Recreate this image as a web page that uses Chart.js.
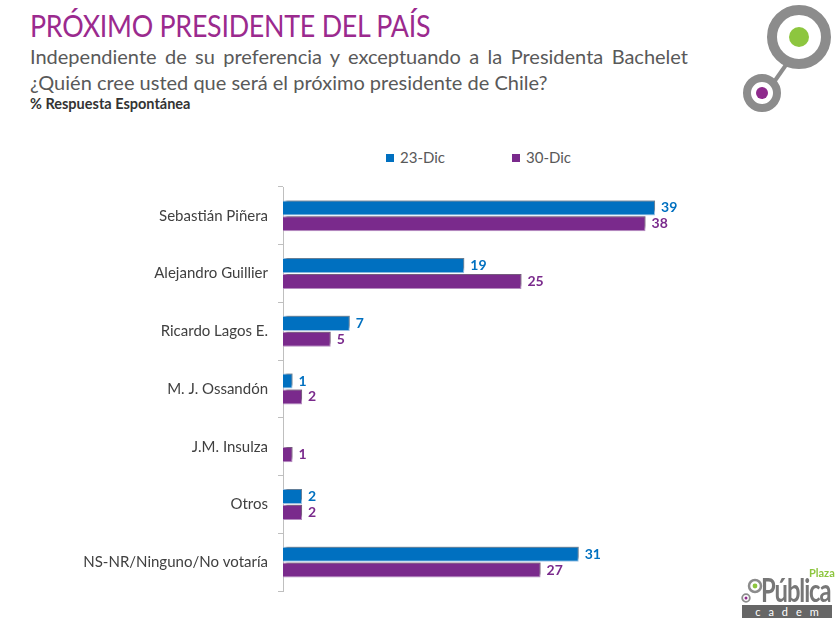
<!DOCTYPE html>
<html><head><meta charset="utf-8">
<script src="https://cdn.jsdelivr.net/npm/chart.js@4"></script>
<style>
html,body{margin:0;padding:0;background:#fff;}
body{width:840px;height:626px;position:relative;overflow:hidden;font-family:Lato,"Noto Sans",sans-serif;}
#title{position:absolute;left:30px;top:6px;font-size:31px;color:#9B2A8E;letter-spacing:-0.3px;white-space:nowrap;transform:scaleX(0.865);transform-origin:left top;}
#sub1{position:absolute;left:30px;top:44px;width:658px;font-size:20px;color:#595959;text-align:justify;text-align-last:justify;white-space:nowrap;}
#sub2{position:absolute;left:30px;top:70px;font-size:20px;color:#595959;white-space:nowrap;}
#sub3{position:absolute;left:30px;top:95px;font-size:14.5px;font-weight:bold;color:#333;white-space:nowrap;}
#legend{position:absolute;top:148px;left:386px;font-size:15px;color:#595959;}
#legend span.it{position:absolute;white-space:nowrap;}
#legend i{display:inline-block;width:8px;height:8px;margin-right:6px;vertical-align:1px;}
#wrap{position:absolute;left:0;top:168px;width:840px;height:442px;}
#logo2{position:absolute;left:740px;top:568px;width:96px;height:52px;}
</style></head><body>
<div id="title">PRÓXIMO PRESIDENTE DEL PAÍS</div>
<div id="sub1">Independiente de su preferencia y exceptuando a la Presidenta Bachelet</div>
<div id="sub2">¿Quién cree usted que será el próximo presidente de Chile?</div>
<div id="sub3">% Respuesta Espontánea</div>
<svg style="position:absolute;left:730px;top:0" width="110" height="125">
  <line x1="44" y1="82" x2="58" y2="62" stroke="#8C8C8C" stroke-width="4"/>
  <circle cx="69" cy="37" r="27" fill="none" stroke="#8C8C8C" stroke-width="10"/>
  <circle cx="69" cy="37" r="10" fill="#8DC63F"/>
  <circle cx="32" cy="93" r="15" fill="none" stroke="#8C8C8C" stroke-width="8"/>
  <circle cx="32" cy="93" r="6" fill="#8E2A8C"/>
</svg>
<div id="legend"></div>
<div id="wrap"><canvas id="c"></canvas></div>
<div id="logo2">
  <svg style="position:absolute;left:0;top:8px" width="24" height="28">
    <circle cx="15" cy="10" r="6" fill="none" stroke="#8C8C8C" stroke-width="2.5"/>
    <circle cx="15" cy="10" r="2.4" fill="#8DC63F"/>
    <circle cx="6" cy="22" r="3.8" fill="none" stroke="#8C8C8C" stroke-width="1.8"/>
    <circle cx="6" cy="22" r="1.5" fill="#8E2A8C"/>
  </svg>
  <div style="position:absolute;left:69px;top:-2px;font-size:11px;font-weight:bold;color:#8DC63F;">Plaza</div>
  <div style="position:absolute;left:21px;top:2px;font-size:33px;font-weight:bold;color:#777;letter-spacing:-1.5px;transform:scaleX(0.72);transform-origin:left;line-height:38px;">Pública</div>
  <div style="position:absolute;left:2px;top:37px;width:90px;height:13px;background:#666;color:#fff;font-size:11px;line-height:13px;text-align:center;letter-spacing:8px;text-indent:8px;">cadem</div>
</div>
<script>
const categories = ["Sebastián Piñera","Alejandro Guillier","Ricardo Lagos E.","M. J. Ossandón","J.M. Insulza","Otros","NS-NR/Ninguno/No votaría"];
const seriesNames = ["23-Dic","30-Dic"];
const dic23 = [39,19,7,1,null,2,31];
const dic30 = [38,25,5,2,1,2,27];
const colors = ["#0070C0","#7A2A8C"];

const leg = document.getElementById('legend');
seriesNames.forEach((n,i)=>{
  const s=document.createElement('span');s.className='it';s.style.left=(i*126)+'px';
  s.innerHTML='<i style="background:'+colors[i]+'"></i>'+n;leg.appendChild(s);
});

const shadowPlugin={id:'shadow',
  beforeDatasetsDraw(chart){const c=chart.ctx;c.save();c.shadowColor='rgba(0,0,0,0.35)';c.shadowOffsetX=3;c.shadowOffsetY=-3;c.shadowBlur=2;},
  afterDatasetsDraw(chart){chart.ctx.restore();}
};
const labelPlugin={id:'vlabels',
  afterDatasetsDraw(chart){const c=chart.ctx;c.save();
    chart.data.datasets.forEach((ds,di)=>{const meta=chart.getDatasetMeta(di);
      meta.data.forEach((bar,i)=>{const v=ds.data[i]; if(v==null) return;
        c.fillStyle=colors[di];c.font='bold 14px Lato';c.textAlign='left';c.textBaseline='middle';
        c.fillText(String(v),bar.x+6,bar.y);});});
    c.restore();}
};

new Chart(document.getElementById('c'),{
  type:'bar',
  data:{labels:categories,datasets:[
    {label:seriesNames[0],data:dic23,backgroundColor:colors[0],borderColor:'#9DC3E6',borderWidth:1,borderSkipped:'left',barPercentage:0.95,categoryPercentage:0.55},
    {label:seriesNames[1],data:dic30,backgroundColor:colors[1],borderColor:'#B58CC0',borderWidth:1,borderSkipped:'left',barPercentage:0.95,categoryPercentage:0.55}
  ]},
  options:{indexAxis:'y',responsive:true,maintainAspectRatio:false,animation:false,
    layout:{padding:{top:13,bottom:3,right:80,left:0}},
    plugins:{legend:{display:false},tooltip:{enabled:false}},
    scales:{
      x:{display:false,min:0,max:50},
      y:{afterFit(s){s.width=283;},
        grid:{display:true,drawOnChartArea:false,drawTicks:true,tickLength:5,color:'#BFBFBF',offset:true},
        border:{display:true,color:'#BFBFBF',width:1},
        ticks:{padding:10,color:'#404040',font:{family:'Lato',size:15}}}
    }
  },
  plugins:[shadowPlugin,labelPlugin]
});
</script>
</body></html>
